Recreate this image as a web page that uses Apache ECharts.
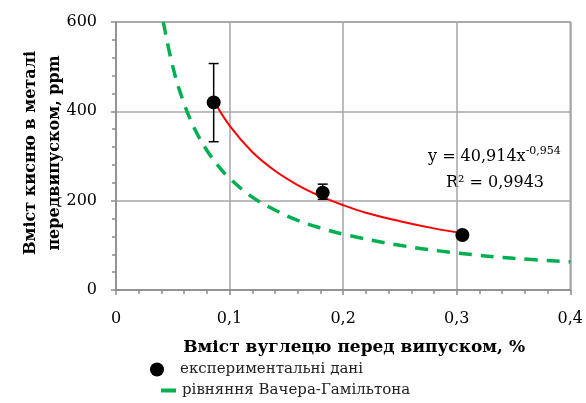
<!DOCTYPE html>
<html><head><meta charset="utf-8">
<script src="https://cdn.jsdelivr.net/npm/echarts@6/dist/echarts.min.js"></script>
<style>html,body{margin:0;padding:0;background:#fff}#c{width:586px;height:403px}</style>
</head><body><div id="c"></div>
<script>
// experimental points
const expX = [0.086, 0.182, 0.305];
const expY = [420, 218, 123];
const errLow = [332, 203, 118];
const errHigh = [507, 237, 128];
// power trend line
const trendX = [0.086, 0.1, 0.12, 0.14, 0.16, 0.18, 0.2, 0.22, 0.25, 0.28, 0.305];
const trendY = [424, 368, 309, 267, 235, 210, 190, 173, 154, 138, 127];
// Vacher–Hamilton curve
const vhX = [0.0417, 0.05, 0.06, 0.07, 0.08, 0.09, 0.1, 0.12, 0.14, 0.16, 0.18, 0.2, 0.25, 0.3, 0.35, 0.4];
const vhY = [600, 500, 417, 357, 313, 278, 250, 208, 179, 156, 139, 125, 100, 83, 71, 63];
const xTicks = ['0', '0,1', '0,2', '0,3', '0,4'];
const yTicks = ['0', '200', '400', '600'];
const eqText = 'y = 40,914x';
const eqExp = '-0,954';
const r2Text = 'R² = 0,9943';

const F = 'DejaVu Serif';
const zip = (a, b) => a.map((v, i) => [v, b[i]]);
const chart = echarts.init(document.getElementById('c'));
chart.setOption({
  animation: false,
  textStyle: {fontFamily: F},
  grid: {left: 116, right: 15, top: 22, bottom: 113, show: true, borderColor: '#a0a0a0', borderWidth: 1.5},
  xAxis: {
    type: 'value', min: 0, max: 0.4, interval: 0.1,
    name: 'Вміст вуглецю перед випуском, %', nameLocation: 'middle', nameGap: 49, nameMoveOverlap: false,
    nameTextStyle: {fontFamily: F, fontWeight: 'bold', fontSize: 17, color: '#000', padding: [0,0,0,22]},
    axisLine: {lineStyle: {color: '#8c8c8c', width: 1.5}},
    axisTick: {length: 5, lineStyle: {color: '#8c8c8c', width: 1.5}},
    minorTick: {show: true, splitNumber: 5, length: 4, lineStyle: {color: '#8c8c8c', width: 1.5}},
    splitLine: {show: true, lineStyle: {color: '#a6a6a6', width: 1.5}},
    axisLabel: {margin: 21, fontSize: 16, color: '#000', fontFamily: F,
      formatter: v => xTicks[Math.round(v * 10)]}
  },
  yAxis: {
    type: 'value', min: 0, max: 600, interval: 200,
    name: 'Вміст кисню в металі\nпередвипуском, ppm', nameLocation: 'middle', nameGap: 49, nameMoveOverlap: false,
    nameTextStyle: {fontFamily: F, fontWeight: 'bold', fontSize: 16, color: '#000', lineHeight: 24, padding: [0,0,0,6]},
    axisLine: {show: true, lineStyle: {color: '#8c8c8c', width: 1.5}},
    axisTick: {show: true, length: 5, lineStyle: {color: '#8c8c8c', width: 1.5}},
    minorTick: {show: true, splitNumber: 5, length: 4, lineStyle: {color: '#8c8c8c', width: 1.5}},
    splitLine: {show: true, lineStyle: {color: '#a6a6a6', width: 1.5}},
    axisLabel: {margin: 19, fontSize: 16, color: '#000', fontFamily: F,
      formatter: v => yTicks[Math.round(v / 200)]}
  },
  legend: [
    {data: [{name: 'експериментальні дані', icon: 'circle'}], left: 150, top: 362, padding: 0, itemWidth: 14, itemHeight: 14, itemGap: 0,
     textStyle: {fontFamily: F, fontSize: 15, color: '#222', padding: [0,0,0,11]}},
    {data: [{name: 'рівняння Вачера-Гамільтона', icon: 'rect', itemStyle: {color: '#00b050', borderWidth: 0}}], left: 161, top: 383, padding: 0, itemWidth: 15, itemHeight: 4,
     textStyle: {fontFamily: F, fontSize: 15, color: '#222', padding: [0,0,0,1]}}
  ],
  graphic: [
    {type: 'text', left: 428, top: 146, style: {
      text: '{a|' + eqText + '}{b|' + eqExp + '}', fontFamily: F,
      rich: {a: {fontSize: 16, fontFamily: F, color: '#000'}, b: {fontSize: 11, fontFamily: F, color: '#000', verticalAlign: 'top', padding: [0,0,10,0]}}}},
    {type: 'text', left: 446, top: 175, style: {text: r2Text, fontSize: 16, fontFamily: F, fill: '#000'}}
  ],
  series: [
    {name: 'рівняння Вачера-Гамільтона', type: 'line', data: zip(vhX, vhY), smooth: 0.4, showSymbol: false, symbol: 'none',
     itemStyle: {color: '#00b050'}, lineStyle: {color: '#00b050', width: 3.5, type: [13, 9]}, z: 2},
    {name: 'trend', type: 'line', data: zip(trendX, trendY), smooth: 0.4, showSymbol: false, symbol: 'none',
     lineStyle: {color: '#ff0000', width: 2}, z: 3},
    {name: 'err', type: 'custom', z: 4,
     data: expX.map((x, i) => [x, errLow[i], errHigh[i]]),
     renderItem: (params, api) => {
       const lo = api.coord([api.value(0), api.value(1)]);
       const hi = api.coord([api.value(0), api.value(2)]);
       const w = 5;
       const st = {stroke: '#000', lineWidth: 1.5};
       return {type: 'group', children: [
         {type: 'line', shape: {x1: lo[0], y1: lo[1], x2: hi[0], y2: hi[1]}, style: st},
         {type: 'line', shape: {x1: lo[0]-w, y1: lo[1], x2: lo[0]+w, y2: lo[1]}, style: st},
         {type: 'line', shape: {x1: hi[0]-w, y1: hi[1], x2: hi[0]+w, y2: hi[1]}, style: st}
       ]};
     }},
    {name: 'експериментальні дані', type: 'scatter', data: zip(expX, expY), symbolSize: 14,
     itemStyle: {color: '#000', opacity: 1}, z: 5}
  ]
});
</script></body></html>
